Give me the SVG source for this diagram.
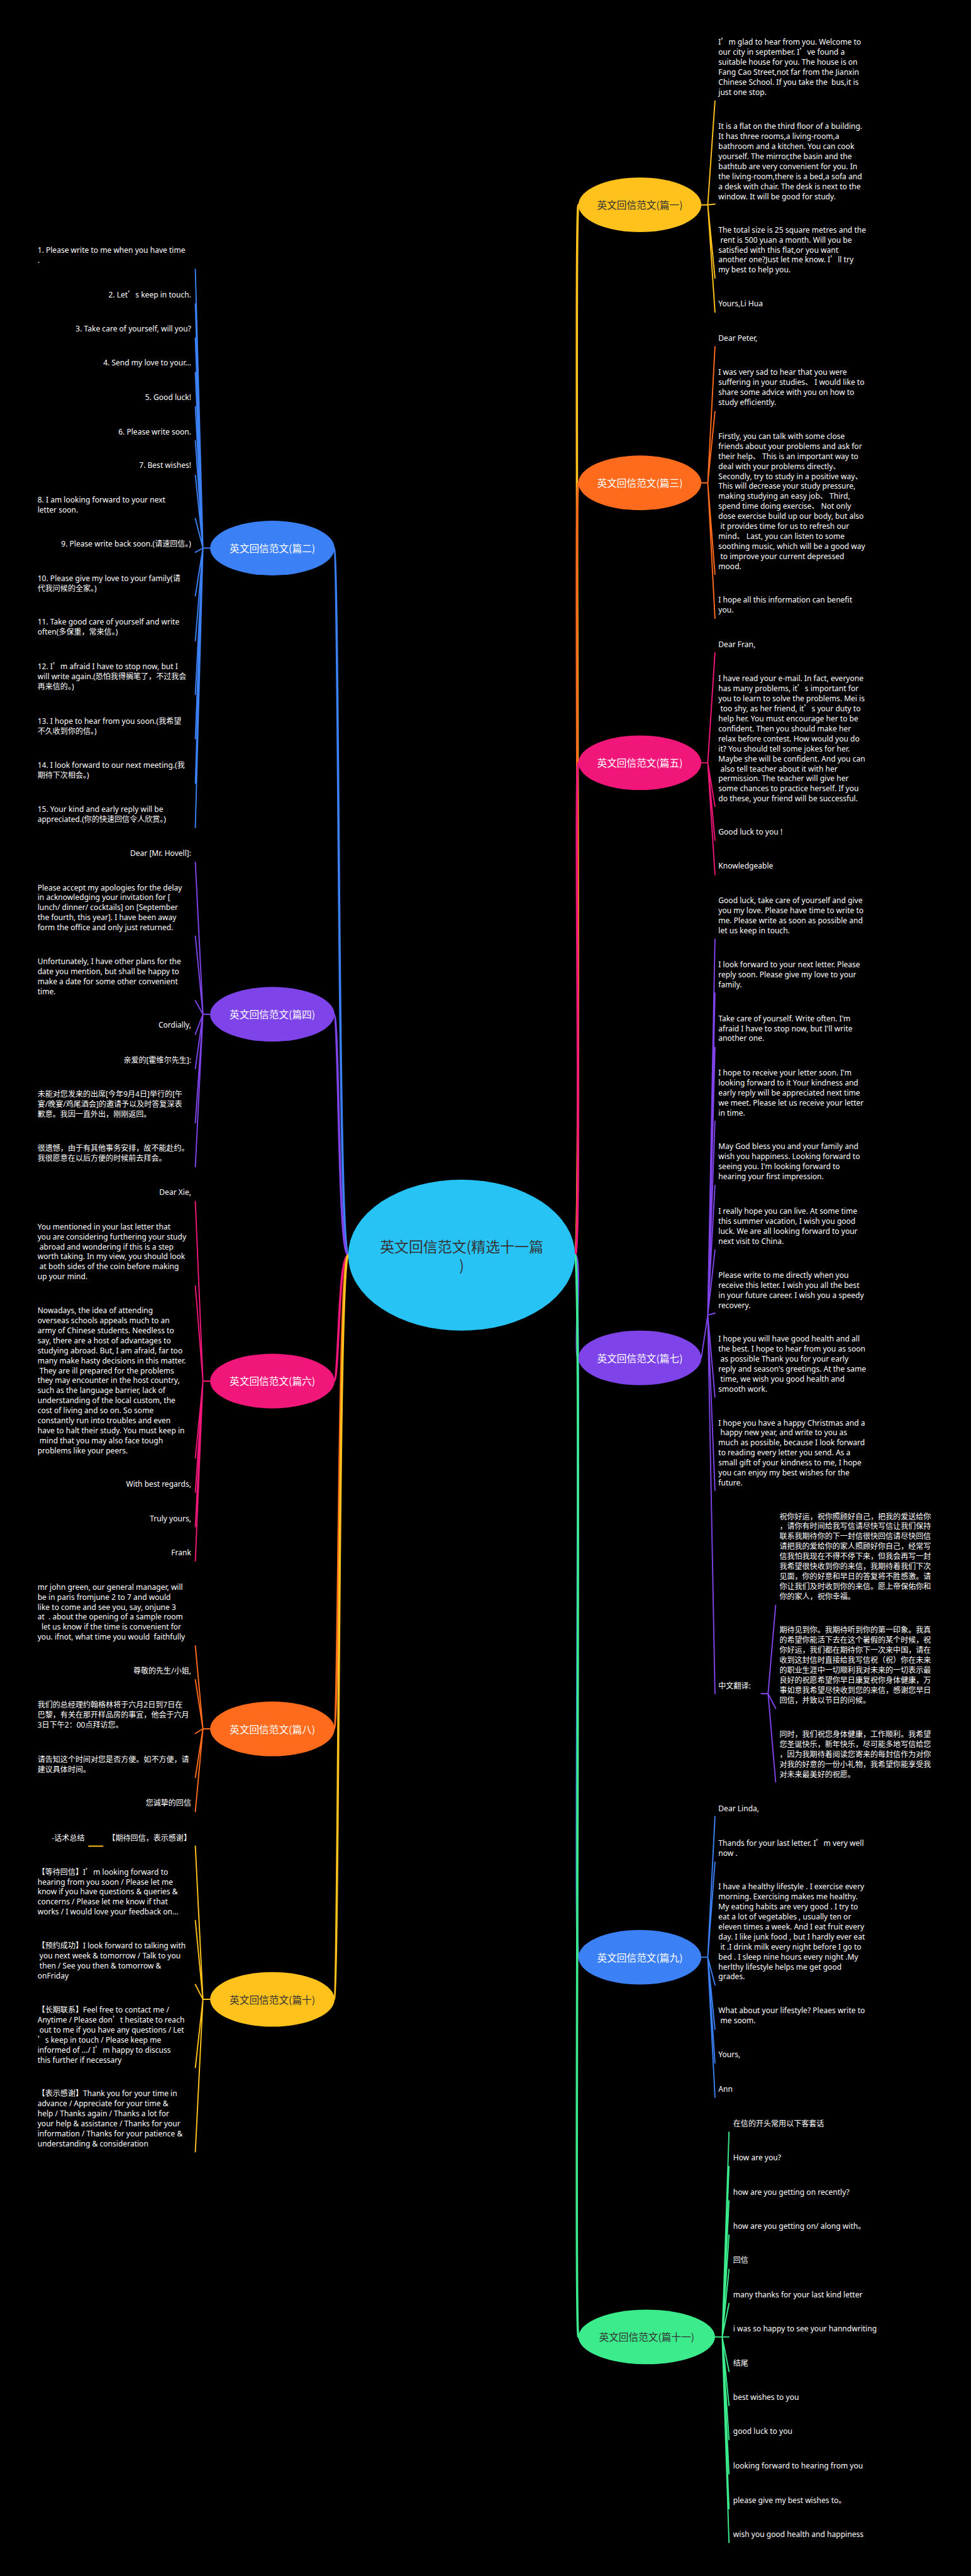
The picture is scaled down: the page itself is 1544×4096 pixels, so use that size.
<svg xmlns="http://www.w3.org/2000/svg" width="1544" height="4096" viewBox="0 0 1544 4096">
<style>
.t{font-family:"Noto Sans","Noto Sans CJK SC",sans-serif;font-size:20px;fill:#fff}
.e{text-anchor:end}
.q{font-family:"Noto Sans CJK SC",sans-serif}
.lbl{font-family:"Noto Sans CJK SC",sans-serif;font-size:26px;text-anchor:middle;dominant-baseline:central}
.lk{fill:#fff}
.dk{fill:#333}
.c{fill:none;stroke-width:3.2;stroke-linecap:round}
.m{fill:none;stroke-width:6;stroke-linecap:round}
.yl{stroke:#FFC21D}.or{stroke:#FF6B1C}.pk{stroke:#F0167A}.pu{stroke:#7E44E9}.bl{stroke:#3B80F5}.gr{stroke:#3CEB8C}
</style>
<rect width="1544" height="4096" fill="#000"/>
<g transform="scale(0.603125)">
<g id="connectors">
<path class="m bl" d="M918 3309C890 3309 895 1445 880 1445"/>
<path class="m pu" d="M918 3309C890 3309 895 2674 880 2674"/>
<path class="m pk" d="M918 3309C890 3309 895 3641 880 3641"/>
<path class="m or" d="M918 3309C890 3309 895 4558 880 4558"/>
<path class="m yl" d="M918 3309C890 3309 895 5271 880 5271"/>
<path class="m yl" d="M1516 3309C1535 3309 1512 540 1525 540"/>
<path class="m or" d="M1516 3309C1535 3309 1512 1273 1525 1273"/>
<path class="m pk" d="M1516 3309C1535 3309 1512 2011 1525 2011"/>
<path class="m pu" d="M1516 3309C1535 3309 1512 3580 1525 3580"/>
<path class="m bl" d="M1516 3309C1535 3309 1512 5160 1525 5160"/>
<path class="m gr" d="M1516 3309C1535 3309 1512 6161 1525 6161"/>
<path class="c bl" d="M554 1445H535M535 1445L515 710M535 1445L515 801M535 1445L515 891M535 1445L515 982M535 1445L515 1072M535 1445L515 1162M535 1445L515 1253M535 1445L515 1367M535 1445L515 1456M535 1445L515 1571M535 1445L515 1689M535 1445L515 1831M535 1445L515 1948M535 1445L515 2065M535 1445L515 2182"/>
<path class="c pu" d="M554 2674H535M535 2674L515 2273M535 2674L515 2468M535 2674L515 2638M535 2674L515 2727M535 2674L515 2817M535 2674L515 2960M535 2674L515 3076"/>
<path class="c pk" d="M554 3641H535M535 3641L515 3167M535 3641L515 3390M535 3641L515 3844M535 3641L515 3934M535 3641L515 4025M535 3641L515 4115"/>
<path class="c or" d="M554 4558H535M535 4558L515 4339M535 4558L515 4428M535 4558L515 4570M535 4558L515 4686M535 4558L515 4776"/>
<path class="c yl" d="M554 5271H535M535 5271L515 4867M535 5271L515 5063M535 5271L515 5232M535 5271L515 5451M535 5271L515 5673M271 4867H234"/>
<path class="c yl" d="M1849 540H1866M1866 540L1885 266M1866 540L1885 538M1866 540L1885 733M1866 540L1885 823"/>
<path class="c or" d="M1849 1273H1866M1866 1273L1885 914M1866 1273L1885 1085M1866 1273L1885 1514M1866 1273L1885 1630"/>
<path class="c pk" d="M1849 2011H1866M1866 2011L1885 1721M1866 2011L1885 2126M1866 2011L1885 2215M1866 2011L1885 2306"/>
<path class="c pu" d="M1849 3580L1866 3467M1866 3467L1885 2476M1866 3467L1885 2618M1866 3467L1885 2761M1866 3467L1885 2956M1866 3467L1885 3125M1866 3467L1885 3295M1866 3467L1885 3462M1866 3467L1885 3683M1866 3467L1885 3929M1866 3467L1885 4465M2007 4465H2025M2025 4465L2045 4232M2025 4465L2045 4504M2025 4465L2045 4698"/>
<path class="c bl" d="M1849 5160H1866M1866 5160L1885 4789M1866 5160L1885 4909M1866 5160L1885 5233M1866 5160L1885 5350M1866 5160L1885 5439M1866 5160L1885 5529"/>
<path class="c gr" d="M1885 6161H1904M1904 6161L1922 5621M1904 6161L1922 5712M1904 6161L1922 5802M1904 6161L1922 5892M1904 6161L1922 5983M1904 6161L1922 6073M1904 6161L1922 6161M1904 6161L1922 6252M1904 6161L1922 6342M1904 6161L1922 6432M1904 6161L1922 6522M1904 6161L1922 6614M1904 6161L1922 6703"/>
</g>
<g id="node-center"><ellipse cx="1217" cy="3309" rx="299" ry="199" fill="#27C3F5"/><text class="lbl dk" style="font-size:38px" x="1217" y="3285">英文回信范文(精选十一篇</text><text class="lbl dk" style="font-size:38px" x="1217" y="3335">)</text></g>
<g id="node-p1"><ellipse cx="1687" cy="540" rx="162" ry="72" fill="#FFC21D"/><text class="lbl dk" x="1687" y="540">英文回信范文(篇一)</text></g>
<g id="node-p3"><ellipse cx="1687" cy="1273" rx="162" ry="72" fill="#FF6B1C"/><text class="lbl lk" x="1687" y="1273">英文回信范文(篇三)</text></g>
<g id="node-p5"><ellipse cx="1687" cy="2011" rx="162" ry="72" fill="#F0167A"/><text class="lbl lk" x="1687" y="2011">英文回信范文(篇五)</text></g>
<g id="node-p7"><ellipse cx="1687" cy="3580" rx="162" ry="72" fill="#7E44E9"/><text class="lbl lk" x="1687" y="3580">英文回信范文(篇七)</text></g>
<g id="node-p9"><ellipse cx="1687" cy="5160" rx="162" ry="72" fill="#3B80F5"/><text class="lbl lk" x="1687" y="5160">英文回信范文(篇九)</text></g>
<g id="node-p11"><ellipse cx="1705" cy="6161" rx="180" ry="72" fill="#3CEB8C"/><text class="lbl dk" x="1705" y="6161">英文回信范文(篇十一)</text></g>
<g id="node-p2"><ellipse cx="718" cy="1445" rx="164" ry="72" fill="#3B80F5"/><text class="lbl lk" x="718" y="1445">英文回信范文(篇二)</text></g>
<g id="node-p4"><ellipse cx="718" cy="2674" rx="164" ry="72" fill="#7E44E9"/><text class="lbl lk" x="718" y="2674">英文回信范文(篇四)</text></g>
<g id="node-p6"><ellipse cx="718" cy="3641" rx="164" ry="72" fill="#F0167A"/><text class="lbl lk" x="718" y="3641">英文回信范文(篇六)</text></g>
<g id="node-p8"><ellipse cx="718" cy="4558" rx="164" ry="72" fill="#FF6B1C"/><text class="lbl lk" x="718" y="4558">英文回信范文(篇八)</text></g>
<g id="node-p10"><ellipse cx="718" cy="5271" rx="164" ry="72" fill="#FFC21D"/><text class="lbl dk" x="718" y="5271">英文回信范文(篇十)</text></g>

<g id="leaves-p2">
<text class="t" x="99" y="667"><tspan x="99">1. Please write to me when you have time</tspan><tspan x="99" dy="26.4">.</tspan></text>
<text class="t e" x="504" y="784">2. Let<tspan class="q">’</tspan>s keep in touch.</text>
<text class="t e" x="504" y="873">3. Take care of yourself, will you?</text>
<text class="t e" x="504" y="964">4. Send my love to your...</text>
<text class="t e" x="504" y="1054">5. Good luck!</text>
<text class="t e" x="504" y="1145">6. Please write soon.</text>
<text class="t e" x="504" y="1234">7. Best wishes!</text>
<text class="t" x="99" y="1325"><tspan x="99">8. I am looking forward to your next</tspan><tspan x="99" dy="26.4">letter soon.</tspan></text>
<text class="t e" x="504" y="1441">9. Please write back soon.(请速回信。)</text>
<text class="t" x="99" y="1532"><tspan x="99">10. Please give my love to your family(请</tspan><tspan x="99" dy="26.4">代我问候的全家。)</tspan></text>
<text class="t" x="99" y="1646"><tspan x="99">11. Take good care of yourself and write</tspan><tspan x="99" dy="26.4">often(多保重，常来信。)</tspan></text>
<text class="t" x="99" y="1764"><tspan x="99">12. I<tspan class="q">’</tspan>m afraid I have to stop now, but I</tspan><tspan x="99" dy="26.4">will write again.(恐怕我得搁笔了，不过我会</tspan><tspan x="99" dy="26.4">再来信的。)</tspan></text>
<text class="t" x="99" y="1908"><tspan x="99">13. I hope to hear from you soon.(我希望</tspan><tspan x="99" dy="26.4">不久收到你的信。)</tspan></text>
<text class="t" x="99" y="2024"><tspan x="99">14. I look forward to our next meeting.(我</tspan><tspan x="99" dy="26.4">期待下次相会。)</tspan></text>
<text class="t" x="99" y="2140"><tspan x="99">15. Your kind and early reply will be</tspan><tspan x="99" dy="26.4">appreciated.(你的快速回信令人欣赏。)</tspan></text>
</g>
<g id="leaves-p4">
<text class="t e" x="504" y="2256">Dear [Mr. Hovell]:</text>
<text class="t" x="99" y="2347"><tspan x="99">Please accept my apologies for the delay</tspan><tspan x="99" dy="26.4">in acknowledging your invitation for [</tspan><tspan x="99" dy="26.4">lunch/ dinner/ cocktails] on [September</tspan><tspan x="99" dy="26.4">the fourth, this year]. I have been away</tspan><tspan x="99" dy="26.4">form the office and only just returned.</tspan></text>
<text class="t" x="99" y="2542"><tspan x="99">Unfortunately, I have other plans for the</tspan><tspan x="99" dy="26.4">date you mention, but shall be happy to</tspan><tspan x="99" dy="26.4">make a date for some other convenient</tspan><tspan x="99" dy="26.4">time.</tspan></text>
<text class="t e" x="504" y="2710">Cordially,</text>
<text class="t e" x="504" y="2802">亲爱的[霍维尔先生]:</text>
<text class="t" x="99" y="2892"><tspan x="99">未能对您发来的出席[今年9月4日]举行的[午</tspan><tspan x="99" dy="26.4">宴/晚宴/鸡尾酒会]的邀请予以及时答复深表</tspan><tspan x="99" dy="26.4">歉意。我因一直外出，刚刚返回。</tspan></text>
<text class="t" x="99" y="3035"><tspan x="99">很遗憾，由于有其他事务安排，故不能赴约。</tspan><tspan x="99" dy="26.4">我很愿意在以后方便的时候前去拜会。</tspan></text>
</g>
<g id="leaves-p6">
<text class="t e" x="504" y="3151">Dear Xie,</text>
<text class="t" x="99" y="3241"><tspan x="99">You mentioned in your last letter that</tspan><tspan x="99" dy="26.4">you are considering furthering your study</tspan><tspan x="99" dy="26.4">&#160;abroad and wondering if this is a step</tspan><tspan x="99" dy="26.4">worth taking. In my view, you should look</tspan><tspan x="99" dy="26.4">&#160;at both sides of the coin before making</tspan><tspan x="99" dy="26.4">up your mind.</tspan></text>
<text class="t" x="99" y="3462"><tspan x="99">Nowadays, the idea of attending</tspan><tspan x="99" dy="26.4">overseas schools appeals much to an</tspan><tspan x="99" dy="26.4">army of Chinese students. Needless to</tspan><tspan x="99" dy="26.4">say, there are a host of advantages to</tspan><tspan x="99" dy="26.4">studying abroad. But, I am afraid, far too</tspan><tspan x="99" dy="26.4">many make hasty decisions in this matter.</tspan><tspan x="99" dy="26.4">&#160;They are ill prepared for the problems</tspan><tspan x="99" dy="26.4">they may encounter in the host country,</tspan><tspan x="99" dy="26.4">such as the language barrier, lack of</tspan><tspan x="99" dy="26.4">understanding of the local custom, the</tspan><tspan x="99" dy="26.4">cost of living and so on. So some</tspan><tspan x="99" dy="26.4">constantly run into troubles and even</tspan><tspan x="99" dy="26.4">have to halt their study. You must keep in</tspan><tspan x="99" dy="26.4">&#160;mind that you may also face tough</tspan><tspan x="99" dy="26.4">problems like your peers.</tspan></text>
<text class="t e" x="504" y="3920">With best regards,</text>
<text class="t e" x="504" y="4010">Truly yours,</text>
<text class="t e" x="504" y="4100">Frank</text>
</g>
<g id="leaves-p8">
<text class="t" x="99" y="4191"><tspan x="99">mr john green, our general manager, will</tspan><tspan x="99" dy="26.4">be in paris fromjune 2 to 7 and would</tspan><tspan x="99" dy="26.4">like to come and see you, say, onjune 3</tspan><tspan x="99" dy="26.4">at &#160;. about the opening of a sample room</tspan><tspan x="99" dy="26.4">&#160;&#160;let us know if the time is convenient for</tspan><tspan x="99" dy="26.4">you. ifnot, what time you would &#160;faithfully</tspan></text>
<text class="t e" x="504" y="4412">尊敬的先生/小姐,</text>
<text class="t" x="99" y="4502"><tspan x="99">我们的总经理约翰格林将于六月2日到7日在</tspan><tspan x="99" dy="26.4">巴黎，有关在那开样品房的事宜，他会于六月</tspan><tspan x="99" dy="26.4">3日下午2：00点拜访您。</tspan></text>
<text class="t" x="99" y="4646"><tspan x="99">请告知这个时间对您是否方便。如不方便，请</tspan><tspan x="99" dy="26.4">建议具体时间。</tspan></text>
<text class="t e" x="504" y="4761">您诚挚的回信</text>
</g>
<g id="leaves-p10">
<text class="t e" x="504" y="4853">【期待回信，表示感谢】</text>
<text class="t e" x="223" y="4853">-话术总结</text>
<text class="t" x="99" y="4942"><tspan x="99">【等待回信】I<tspan class="q">’</tspan>m looking forward to</tspan><tspan x="99" dy="26.4">hearing from you soon / Please let me</tspan><tspan x="99" dy="26.4">know if you have questions &amp; queries &amp;</tspan><tspan x="99" dy="26.4">concerns / Please let me know if that</tspan><tspan x="99" dy="26.4">works / I would love your feedback on...</tspan></text>
<text class="t" x="99" y="5137"><tspan x="99">【预约成功】I look forward to talking with</tspan><tspan x="99" dy="26.4">&#160;you next week &amp; tomorrow / Talk to you</tspan><tspan x="99" dy="26.4">&#160;then / See you then &amp; tomorrow &amp;</tspan><tspan x="99" dy="26.4">onFriday</tspan></text>
<text class="t" x="99" y="5306"><tspan x="99">【长期联系】Feel free to contact me /</tspan><tspan x="99" dy="26.4">Anytime / Please don<tspan class="q">’</tspan>t hesitate to reach</tspan><tspan x="99" dy="26.4">&#160;out to me if you have any questions / Let</tspan><tspan x="99" dy="26.4"><tspan class="q">’</tspan>s keep in touch / Please keep me</tspan><tspan x="99" dy="26.4">informed of .../ I<tspan class="q">’</tspan>m happy to discuss</tspan><tspan x="99" dy="26.4">this further if necessary</tspan></text>
<text class="t" x="99" y="5527"><tspan x="99">【表示感谢】Thank you for your time in</tspan><tspan x="99" dy="26.4">advance / Appreciate for your time &amp;</tspan><tspan x="99" dy="26.4">help / Thanks again / Thanks a lot for</tspan><tspan x="99" dy="26.4">your help &amp; assistance / Thanks for your</tspan><tspan x="99" dy="26.4">information / Thanks for your patience &amp;</tspan><tspan x="99" dy="26.4">understanding &amp; consideration</tspan></text>
</g>
<g id="leaves-p1">
<text class="t" x="1894" y="118"><tspan x="1894">I<tspan class="q">’</tspan>m glad to hear from you. Welcome to</tspan><tspan x="1894" dy="26.4">our city in september. I<tspan class="q">’</tspan>ve found a</tspan><tspan x="1894" dy="26.4">suitable house for you. The house is on</tspan><tspan x="1894" dy="26.4">Fang Cao Street,not far from the Jianxin</tspan><tspan x="1894" dy="26.4">Chinese School. If you take the &#160;bus,it is</tspan><tspan x="1894" dy="26.4">just one stop.</tspan></text>
<text class="t" x="1894" y="340"><tspan x="1894">It is a flat on the third floor of a building.</tspan><tspan x="1894" dy="26.4">It has three rooms,a living-room,a</tspan><tspan x="1894" dy="26.4">bathroom and a kitchen. You can cook</tspan><tspan x="1894" dy="26.4">yourself. The mirror,the basin and the</tspan><tspan x="1894" dy="26.4">bathtub are very convenient for you. In</tspan><tspan x="1894" dy="26.4">the living-room,there is a bed,a sofa and</tspan><tspan x="1894" dy="26.4">a desk with chair. The desk is next to the</tspan><tspan x="1894" dy="26.4">window. It will be good for study.</tspan></text>
<text class="t" x="1894" y="613"><tspan x="1894">The total size is 25 square metres and the</tspan><tspan x="1894" dy="26.4">&#160;rent is 500 yuan a month. Will you be</tspan><tspan x="1894" dy="26.4">satisfied with this flat,or you want</tspan><tspan x="1894" dy="26.4">another one?Just let me know. I<tspan class="q">’</tspan>ll try</tspan><tspan x="1894" dy="26.4">my best to help you.</tspan></text>
<text class="t" x="1894" y="808">Yours,Li Hua</text>
</g>
<g id="leaves-p3">
<text class="t" x="1894" y="898">Dear Peter,</text>
<text class="t" x="1894" y="988"><tspan x="1894">I was very sad to hear that you were</tspan><tspan x="1894" dy="26.4">suffering in your studies、 I would like to</tspan><tspan x="1894" dy="26.4">share some advice with you on how to</tspan><tspan x="1894" dy="26.4">study efficiently.</tspan></text>
<text class="t" x="1894" y="1157"><tspan x="1894">Firstly, you can talk with some close</tspan><tspan x="1894" dy="26.4">friends about your problems and ask for</tspan><tspan x="1894" dy="26.4">their help、 This is an important way to</tspan><tspan x="1894" dy="26.4">deal with your problems directly、</tspan><tspan x="1894" dy="26.4">Secondly, try to study in a positive way、</tspan><tspan x="1894" dy="26.4">This will decrease your study pressure,</tspan><tspan x="1894" dy="26.4">making studying an easy job、 Third,</tspan><tspan x="1894" dy="26.4">spend time doing exercise、 Not only</tspan><tspan x="1894" dy="26.4">dose exercise build up our body, but also</tspan><tspan x="1894" dy="26.4">&#160;it provides time for us to refresh our</tspan><tspan x="1894" dy="26.4">mind、 Last, you can listen to some</tspan><tspan x="1894" dy="26.4">soothing music, which will be a good way</tspan><tspan x="1894" dy="26.4">&#160;to improve your current depressed</tspan><tspan x="1894" dy="26.4">mood.</tspan></text>
<text class="t" x="1894" y="1589"><tspan x="1894">I hope all this information can benefit</tspan><tspan x="1894" dy="26.4">you.</tspan></text>
</g>
<g id="leaves-p5">
<text class="t" x="1894" y="1706">Dear Fran,</text>
<text class="t" x="1894" y="1796"><tspan x="1894">I have read your e-mail. In fact, everyone</tspan><tspan x="1894" dy="26.4">has many problems, it<tspan class="q">’</tspan>s important for</tspan><tspan x="1894" dy="26.4">you to learn to solve the problems. Mei is</tspan><tspan x="1894" dy="26.4">&#160;too shy, as her friend, it<tspan class="q">’</tspan>s your duty to</tspan><tspan x="1894" dy="26.4">help her. You must encourage her to be</tspan><tspan x="1894" dy="26.4">confident. Then you should make her</tspan><tspan x="1894" dy="26.4">relax before contest. How would you do</tspan><tspan x="1894" dy="26.4">it? You should tell some jokes for her.</tspan><tspan x="1894" dy="26.4">Maybe she will be confident. And you can</tspan><tspan x="1894" dy="26.4">&#160;also tell teacher about it with her</tspan><tspan x="1894" dy="26.4">permission. The teacher will give her</tspan><tspan x="1894" dy="26.4">some chances to practice herself. If you</tspan><tspan x="1894" dy="26.4">do these, your friend will be successful.</tspan></text>
<text class="t" x="1894" y="2201">Good luck to you !</text>
<text class="t" x="1894" y="2290">Knowledgeable</text>
</g>
<g id="leaves-p7">
<text class="t" x="1894" y="2381"><tspan x="1894">Good luck, take care of yourself and give</tspan><tspan x="1894" dy="26.4">you my love. Please have time to write to</tspan><tspan x="1894" dy="26.4">me. Please write as soon as possible and</tspan><tspan x="1894" dy="26.4">let us keep in touch.</tspan></text>
<text class="t" x="1894" y="2550"><tspan x="1894">I look forward to your next letter. Please</tspan><tspan x="1894" dy="26.4">reply soon. Please give my love to your</tspan><tspan x="1894" dy="26.4">family.</tspan></text>
<text class="t" x="1894" y="2692"><tspan x="1894">Take care of yourself. Write often. I'm</tspan><tspan x="1894" dy="26.4">afraid I have to stop now, but I'll write</tspan><tspan x="1894" dy="26.4">another one.</tspan></text>
<text class="t" x="1894" y="2836"><tspan x="1894">I hope to receive your letter soon. I'm</tspan><tspan x="1894" dy="26.4">looking forward to it Your kindness and</tspan><tspan x="1894" dy="26.4">early reply will be appreciated next time</tspan><tspan x="1894" dy="26.4">we meet. Please let us receive your letter</tspan><tspan x="1894" dy="26.4">in time.</tspan></text>
<text class="t" x="1894" y="3030"><tspan x="1894">May God bless you and your family and</tspan><tspan x="1894" dy="26.4">wish you happiness. Looking forward to</tspan><tspan x="1894" dy="26.4">seeing you. I'm looking forward to</tspan><tspan x="1894" dy="26.4">hearing your first impression.</tspan></text>
<text class="t" x="1894" y="3200"><tspan x="1894">I really hope you can live. At some time</tspan><tspan x="1894" dy="26.4">this summer vacation, I wish you good</tspan><tspan x="1894" dy="26.4">luck. We are all looking forward to your</tspan><tspan x="1894" dy="26.4">next visit to China.</tspan></text>
<text class="t" x="1894" y="3369"><tspan x="1894">Please write to me directly when you</tspan><tspan x="1894" dy="26.4">receive this letter. I wish you all the best</tspan><tspan x="1894" dy="26.4">in your future career. I wish you a speedy</tspan><tspan x="1894" dy="26.4">recovery.</tspan></text>
<text class="t" x="1894" y="3537"><tspan x="1894">I hope you will have good health and all</tspan><tspan x="1894" dy="26.4">the best. I hope to hear from you as soon</tspan><tspan x="1894" dy="26.4">&#160;as possible Thank you for your early</tspan><tspan x="1894" dy="26.4">reply and season's greetings. At the same</tspan><tspan x="1894" dy="26.4">&#160;time, we wish you good health and</tspan><tspan x="1894" dy="26.4">smooth work.</tspan></text>
<text class="t" x="1894" y="3758"><tspan x="1894">I hope you have a happy Christmas and a</tspan><tspan x="1894" dy="26.4">&#160;happy new year, and write to you as</tspan><tspan x="1894" dy="26.4">much as possible, because I look forward</tspan><tspan x="1894" dy="26.4">to reading every letter you send. As a</tspan><tspan x="1894" dy="26.4">small gift of your kindness to me, I hope</tspan><tspan x="1894" dy="26.4">you can enjoy my best wishes for the</tspan><tspan x="1894" dy="26.4">future.</tspan></text>
<text class="t" x="1894" y="4451">中文翻译:</text>
<text class="t" x="2055" y="4005"><tspan x="2055">祝你好运，祝你照顾好自己，把我的爱送给你</tspan><tspan x="2055" dy="26.4">，请你有时间给我写信请尽快写信让我们保持</tspan><tspan x="2055" dy="26.4">联系我期待你的下一封信很快回信请尽快回信</tspan><tspan x="2055" dy="26.4">请把我的爱给你的家人照顾好你自己，经常写</tspan><tspan x="2055" dy="26.4">信我怕我现在不得不停下来，但我会再写一封</tspan><tspan x="2055" dy="26.4">我希望很快收到你的来信，我期待着我们下次</tspan><tspan x="2055" dy="26.4">见面，你的好意和早日的答复将不胜感激。请</tspan><tspan x="2055" dy="26.4">你让我们及时收到你的来信。愿上帝保佑你和</tspan><tspan x="2055" dy="26.4">你的家人，祝你幸福。</tspan></text>
<text class="t" x="2055" y="4305"><tspan x="2055">期待见到你。我期待听到你的第一印象。我真</tspan><tspan x="2055" dy="26.4">的希望你能活下去在这个暑假的某个时候，祝</tspan><tspan x="2055" dy="26.4">你好运，我们都在期待你下一次来中国，请在</tspan><tspan x="2055" dy="26.4">收到这封信时直接给我写信祝（祝）你在未来</tspan><tspan x="2055" dy="26.4">的职业生涯中一切顺利我对未来的一切表示最</tspan><tspan x="2055" dy="26.4">良好的祝愿希望你早日康复祝你身体健康，万</tspan><tspan x="2055" dy="26.4">事如意我希望尽快收到您的来信，感谢您早日</tspan><tspan x="2055" dy="26.4">回信，并致以节日的问候。</tspan></text>
<text class="t" x="2055" y="4580"><tspan x="2055">同时，我们祝您身体健康，工作顺利。我希望</tspan><tspan x="2055" dy="26.4">您圣诞快乐，新年快乐，尽可能多地写信给您</tspan><tspan x="2055" dy="26.4">，因为我期待着阅读您寄来的每封信作为对你</tspan><tspan x="2055" dy="26.4">对我的好意的一份小礼物，我希望你能享受我</tspan><tspan x="2055" dy="26.4">对未来最美好的祝愿。</tspan></text>
</g>
<g id="leaves-p9">
<text class="t" x="1894" y="4775">Dear Linda,</text>
<text class="t" x="1894" y="4866"><tspan x="1894">Thands for your last letter. I<tspan class="q">’</tspan>m very well</tspan><tspan x="1894" dy="26.4">now .</tspan></text>
<text class="t" x="1894" y="4981"><tspan x="1894">I have a healthy lifestyle . I exercise every</tspan><tspan x="1894" dy="26.4">morning. Exercising makes me healthy.</tspan><tspan x="1894" dy="26.4">My eating habits are very good . I try to</tspan><tspan x="1894" dy="26.4">eat a lot of vegetables , usually ten or</tspan><tspan x="1894" dy="26.4">eleven times a week. And I eat fruit every</tspan><tspan x="1894" dy="26.4">day. I like junk food , but I hardly ever eat</tspan><tspan x="1894" dy="26.4">&#160;it .I drink milk every night before I go to</tspan><tspan x="1894" dy="26.4">bed . I sleep nine hours every night .My</tspan><tspan x="1894" dy="26.4">herlthy lifestyle helps me get good</tspan><tspan x="1894" dy="26.4">grades.</tspan></text>
<text class="t" x="1894" y="5307"><tspan x="1894">What about your lifestyle? Pleaes write to</tspan><tspan x="1894" dy="26.4">&#160;me soom.</tspan></text>
<text class="t" x="1894" y="5424">Yours,</text>
<text class="t" x="1894" y="5514">Ann</text>
</g>
<g id="leaves-p11">
<text class="t" x="1933" y="5605">在信的开头常用以下客套话</text>
<text class="t" x="1933" y="5695">How are you?</text>
<text class="t" x="1933" y="5786">how are you getting on recently?</text>
<text class="t" x="1933" y="5876">how are you getting on/ along with。</text>
<text class="t" x="1933" y="5966">回信</text>
<text class="t" x="1933" y="6057">many thanks for your last kind letter</text>
<text class="t" x="1933" y="6146">i was so happy to see your hanndwriting</text>
<text class="t" x="1933" y="6237">结尾</text>
<text class="t" x="1933" y="6327">best wishes to you</text>
<text class="t" x="1933" y="6417">good luck to you</text>
<text class="t" x="1933" y="6508">looking forward to hearing from you</text>
<text class="t" x="1933" y="6599">please give my best wishes to。</text>
<text class="t" x="1933" y="6688">wish you good health and happiness</text>
</g>
</g>
</svg>
